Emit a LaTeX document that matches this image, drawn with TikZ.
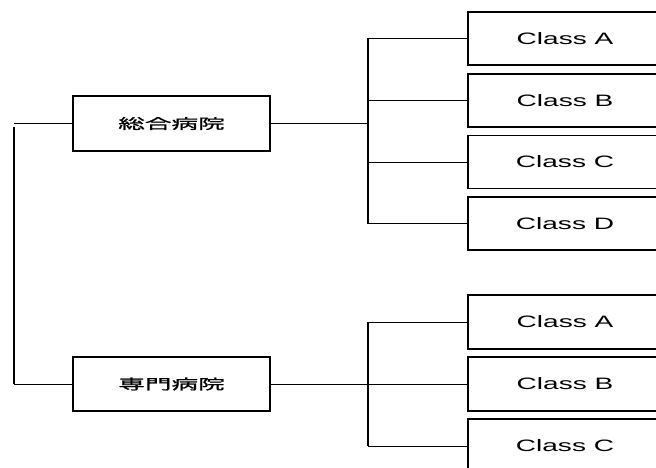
\documentclass[tikz,border=0pt]{standalone}
\usepackage{fontspec}
\newfontfamily\latinwide[FakeStretch=1.7]{Liberation Sans}
\newfontfamily\cjkwide[FakeStretch=1.9,FakeBold=1.2]{Noto Sans CJK JP}
\begin{document}
\begin{tikzpicture}[x=1pt,y=-1pt,
  hospital/.style={draw=black,line width=1.3pt,minimum width=197pt,minimum height=55pt,
    inner sep=0pt,font=\cjkwide\fontsize{14}{16}\selectfont},
  classbox/.style={draw=black,line width=1.3pt,minimum width=194pt,minimum height=53pt,
    inner sep=0pt,font=\latinwide\fontsize{16.5}{18}\selectfont},
  link/.style={draw=black,line width=0.8pt},
  rootlink/.style={draw=black,line width=1.4pt}]
\useasboundingbox (0,0) rectangle (656,468);
\begin{scope}
\clip (0,0) rectangle (656,468);

% hospital categories
\node[hospital] (gen) at (171.5,123.5) {総合病院};
\node[hospital,minimum height=54pt] (spec) at (171.5,384) {専門病院};

% classes of general hospitals
\node[classbox] (ga) at (565,38.5) {Class A};
\node[classbox] (gb) at (565,100.5) {Class B};
\node[classbox] (gc) at (565,162) {Class C};
\node[classbox] (gd) at (565,223.5) {Class D};

% classes of specialised hospitals
\node[classbox,minimum height=54pt] (sa) at (565,322) {Class A};
\node[classbox,minimum height=54pt] (sb) at (565,384) {Class B};
\node[classbox,minimum height=54pt] (sc) at (565,446) {Class C};

% root bracket
\coordinate (rtop) at (14,123.5);
\coordinate (rvt) at (14,127);
\coordinate (rbot) at (14,384);
\draw[link] (rtop) -- (gen.west);
\draw[rootlink] (rvt) -- (rbot);
\draw[link] (rbot) -- (spec.west);

% upper bracket
\coordinate (uj) at (368,123.5);
\draw[link] (gen.east) -- (uj);
\draw[rootlink,line width=1.1pt] (368,38.5) -- (368,223.5);
\draw[link] (368,38.5) -- (ga.west);
\draw[link] (368,100.5) -- (gb.west);
\draw[link] (368,162) -- (gc.west);
\draw[link] (368,223.5) -- (gd.west);

% lower bracket
\draw[link] (spec.east) -- (sb.west);
\draw[rootlink,line width=1.1pt] (368,322) -- (368,446);
\draw[link] (368,322) -- (sa.west);
\draw[link] (368,446) -- (sc.west);
\end{scope}
\end{tikzpicture}
\end{document}
